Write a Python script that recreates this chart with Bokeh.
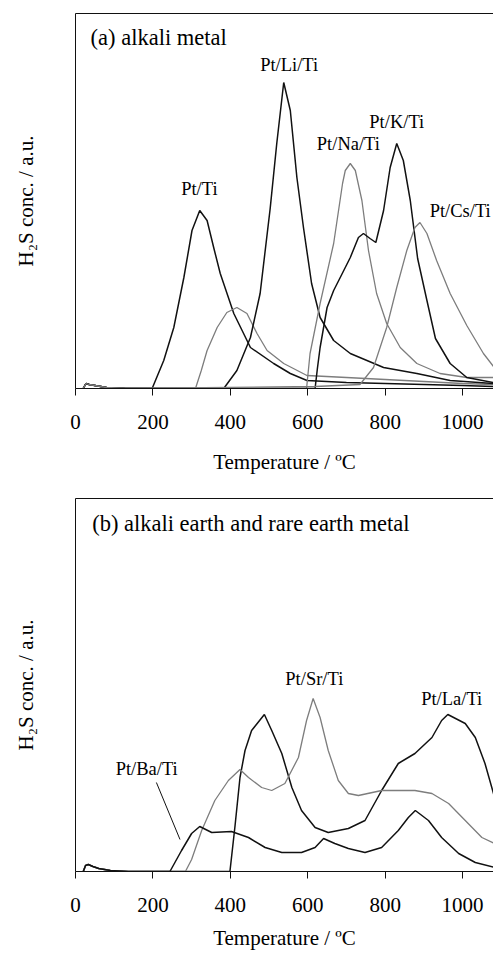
from bokeh.plotting import figure
from bokeh.layouts import column
from bokeh.models import Range1d, LinearAxis, FixedTicker
from bokeh.core.properties import value
from bokeh.embed import file_html
from bokeh.resources import INLINE

FONT = "Liberation Serif"
BLACK = "#111111"
GRAY = "#7d7d7d"

# ---------------- data (temperature in degC, H2S concentration in a.u.) -------------
x_ticks = [0, 200, 400, 600, 800, 1000]

# panel (a) alkali metal
pt_ti_T = [20, 27, 35, 50, 80, 130, 198, 228, 254, 280, 301, 321, 340, 357, 374, 409, 452, 512, 555, 598, 700, 800, 900, 1000, 1080]
pt_ti_h = [0, 5, 4, 3, 1, 0, 0, 28, 61, 111, 158, 178, 168, 141, 115, 75, 41, 25, 15, 8, 6, 5, 4, 3, 2]

unlabeled_a_T = [20, 27, 35, 50, 80, 130, 310, 325, 340, 366, 391, 417, 443, 469, 495, 538, 598, 700, 800, 900, 1000, 1080]
unlabeled_a_h = [0, 5, 4, 3, 1, 0, 0, 18, 38, 61, 76, 81, 75, 55, 38, 25, 13, 11, 9, 7, 5, 4]

pt_li_T = [20, 27, 35, 50, 80, 130, 383, 417, 452, 477, 503, 520, 538, 555, 572, 589, 610, 632, 667, 710, 796, 882, 968, 1080]
pt_li_h = [0, 5, 4, 3, 1, 0, 0, 18, 51, 95, 180, 245, 306, 278, 211, 161, 105, 71, 48, 35, 21, 15, 8, 5]

pt_na_T = [20, 27, 35, 50, 80, 130, 597, 606, 632, 667, 690, 697, 710, 723, 740, 757, 778, 804, 839, 882, 942, 1011, 1080]
pt_na_h = [0, 5, 4, 3, 1, 0, 0, 35, 85, 145, 205, 218, 225, 218, 188, 138, 95, 65, 41, 25, 15, 11, 11]

pt_k_T = [20, 27, 35, 50, 80, 130, 619, 625, 632, 650, 667, 684, 710, 731, 744, 761, 776, 796, 813, 830, 847, 865, 884, 908, 930, 968, 1011, 1080]
pt_k_h = [0, 5, 4, 3, 1, 0, 0, 20, 41, 81, 98, 111, 131, 151, 155, 150, 146, 178, 221, 245, 228, 188, 130, 88, 50, 25, 11, 6]

pt_cs_T = [20, 27, 35, 50, 80, 130, 620, 735, 770, 804, 830, 856, 877, 890, 908, 933, 968, 1011, 1054, 1080]
pt_cs_h = [0, 5, 4, 3, 1, 0, 2, 4, 21, 61, 101, 138, 161, 166, 155, 128, 95, 63, 35, 22]

labels_a = ["Pt/Ti", "Pt/Li/Ti", "Pt/Na/Ti", "Pt/K/Ti", "Pt/Cs/Ti"]
labels_a_T = [320, 552, 705, 830, 994]
labels_a_h = [200, 324, 245, 267, 178]
title_a = "(a) alkali metal"

# panel (b) alkali earth and rare earth metal
pt_la_T = [20, 26, 33, 45, 60, 90, 136, 399, 412, 425, 438, 455, 488, 507, 533, 559, 584, 619, 653, 705, 748, 791, 834, 877, 921, 946, 962, 1007, 1033, 1058, 1083]
pt_la_h = [0, 6, 7, 5, 3, 1, 0, 0, 45, 94, 121, 141, 157, 141, 118, 84, 61, 44, 39, 43, 51, 81, 108, 118, 134, 151, 157, 148, 134, 108, 74]

pt_sr_T = [20, 26, 33, 45, 60, 90, 136, 284, 300, 326, 360, 395, 425, 447, 481, 507, 541, 576, 597, 614, 632, 653, 679, 705, 731, 791, 877, 921, 964, 1007, 1050, 1083]
pt_sr_h = [0, 6, 7, 5, 3, 1, 0, 0, 12, 41, 71, 91, 102, 94, 84, 81, 88, 114, 151, 173, 154, 121, 91, 78, 76, 81, 81, 78, 68, 51, 34, 28]

pt_ba_T = [20, 26, 33, 45, 60, 90, 136, 244, 274, 300, 321, 352, 403, 447, 490, 533, 584, 619, 641, 670, 705, 748, 791, 834, 860, 878, 912, 946, 990, 1033, 1083]
pt_ba_h = [0, 6, 7, 5, 3, 1, 0, 0, 21, 38, 45, 39, 40, 34, 24, 19, 19, 24, 33, 28, 23, 19, 24, 41, 54, 61, 51, 34, 18, 9, 4]

labels_b = ["Pt/Sr/Ti", "Pt/La/Ti", "Pt/Ba/Ti"]
labels_b_T = [617, 972, 184]
labels_b_h = [193, 173, 103]
ba_leader_T = [209, 270]
ba_leader_h = [89, 32]
title_b = "(b) alkali earth and rare earth metal"

x_label = "Temperature / ºC"
y_label = "H₂S conc. / a.u."


def make_panel(height, top, frame_h, ymax, label_standoff):
    p = figure(width=493, height=height, x_range=Range1d(0, 1080), y_range=Range1d(0, ymax),
               output_backend="svg", toolbar_location=None,
               min_border_left=75, min_border_right=0, min_border_top=top,
               min_border_bottom=height - top - frame_h)
    p.grid.visible = False
    p.outline_line_color = None
    p.background_fill_color = "white"
    p.border_fill_color = "white"

    xa = p.xaxis[0]
    xa.ticker = FixedTicker(ticks=x_ticks)
    xa.major_tick_in = 0
    xa.major_tick_out = 7
    xa.minor_tick_out = 0
    xa.minor_tick_in = 0
    xa.axis_line_color = BLACK
    xa.major_tick_line_color = BLACK
    xa.major_label_text_font = FONT
    xa.major_label_text_font_size = "21px"
    xa.major_label_text_color = "black"
    xa.major_label_standoff = 19
    xa.axis_label = x_label
    xa.axis_label_text_font = FONT
    xa.axis_label_text_font_size = "21px"
    xa.axis_label_text_font_style = "normal"
    xa.axis_label_text_color = "black"
    xa.axis_label_standoff = label_standoff

    ya = p.yaxis[0]
    ya.ticker = FixedTicker(ticks=[])
    ya.major_tick_out = 0
    ya.major_tick_in = 0
    ya.minor_tick_out = 0
    ya.minor_tick_in = 0
    ya.axis_line_color = BLACK
    ya.axis_label = y_label
    ya.axis_label_text_font = FONT
    ya.axis_label_text_font_size = "21px"
    ya.axis_label_text_font_style = "normal"
    ya.axis_label_text_color = "black"
    ya.axis_label_standoff = 38

    top_axis = LinearAxis(ticker=FixedTicker(ticks=[]), major_tick_out=0, major_tick_in=0,
                          minor_tick_out=0, minor_tick_in=0, axis_line_color=BLACK,
                          major_label_text_font_size="0px")
    p.add_layout(top_axis, "above")
    return p


LABEL_SIZE = "18.5px"
TITLE_SIZE = "22.5px"

pa = make_panel(480, 13, 375, 375, 18)
for T, h, c in [(pt_ti_T, pt_ti_h, BLACK), (unlabeled_a_T, unlabeled_a_h, GRAY),
                (pt_li_T, pt_li_h, BLACK), (pt_na_T, pt_na_h, GRAY),
                (pt_k_T, pt_k_h, BLACK), (pt_cs_T, pt_cs_h, GRAY)]:
    pa.line(T, h, line_color=c, line_width=1.5 if c == BLACK else 1.3)
pa.text(x=labels_a_T, y=labels_a_h, text=labels_a, text_font=value(FONT), text_font_size=LABEL_SIZE,
        text_align="center", text_baseline="middle", text_color="black")
pa.text(x=[39], y=[351], text=[title_a], text_font=value(FONT), text_font_size=TITLE_SIZE,
        text_align="left", text_baseline="middle", text_color="black")

pb = make_panel(476, 18, 373, 373, 11)
for T, h, c in [(pt_la_T, pt_la_h, BLACK), (pt_sr_T, pt_sr_h, GRAY), (pt_ba_T, pt_ba_h, BLACK)]:
    pb.line(T, h, line_color=c, line_width=1.5 if c == BLACK else 1.3)
pb.line(ba_leader_T, ba_leader_h, line_color=BLACK, line_width=1)
pb.text(x=labels_b_T, y=labels_b_h, text=labels_b, text_font=value(FONT), text_font_size=LABEL_SIZE,
        text_align="center", text_baseline="middle", text_color="black")
pb.text(x=[43], y=[348], text=[title_b], text_font=value(FONT), text_font_size=TITLE_SIZE,
        text_align="left", text_baseline="middle", text_color="black")

layout = column(pa, pb, spacing=0)
open("out.html", "w").write(file_html(layout, INLINE))
